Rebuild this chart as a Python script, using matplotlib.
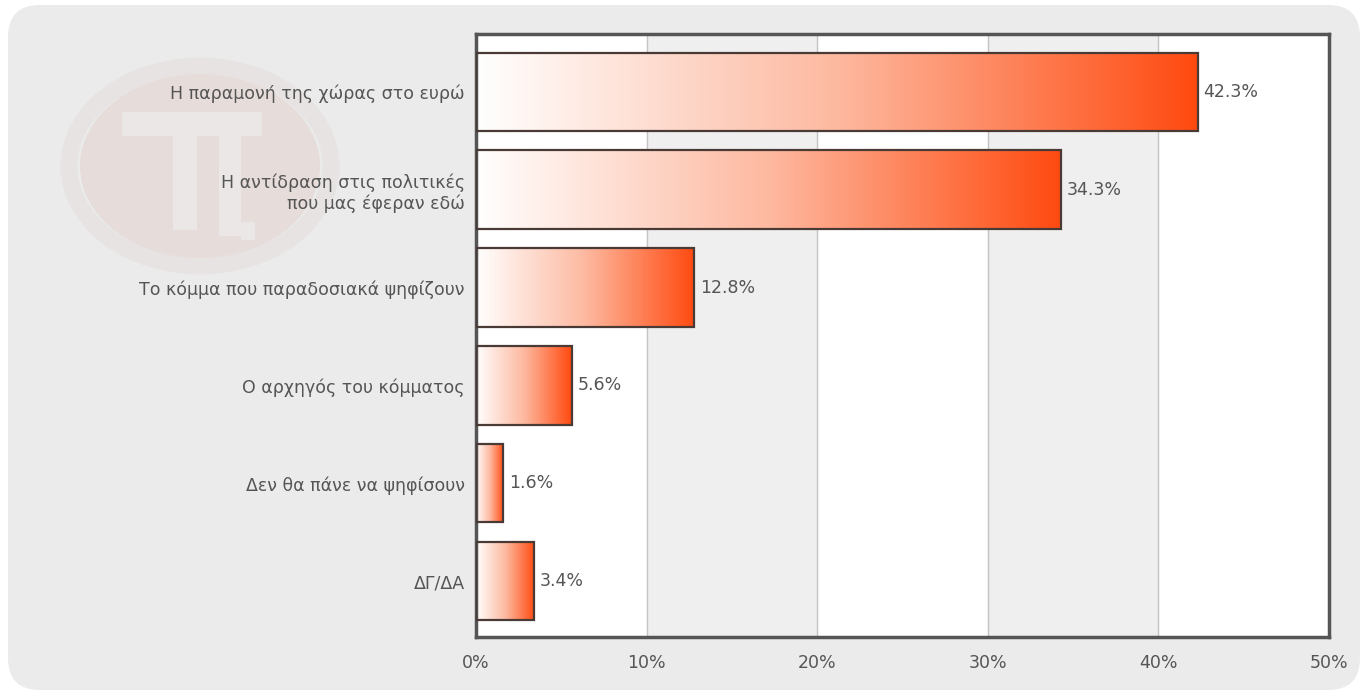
import numpy as np
import matplotlib.pyplot as plt
from matplotlib.patches import FancyBboxPatch, Rectangle, Ellipse
from matplotlib.colors import LinearSegmentedColormap

labels = ['Η παραμονή της χώρας στο ευρώ',
          'Η αντίδραση στις πολιτικές\nπου μας έφεραν εδώ',
          'Το κόμμα που παραδοσιακά ψηφίζουν',
          'Ο αρχηγός του κόμματος',
          'Δεν θα πάνε να ψηφίσουν',
          'ΔΓ/ΔΑ']
values = [42.3, 34.3, 12.8, 5.6, 1.6, 3.4]
xticks = [0, 10, 20, 30, 40, 50]

plt.rcParams['font.family'] = ['DejaVu Sans']
text_col = '#555555'
fs = 12.5
cmap = LinearSegmentedColormap.from_list('bar', ['#ffffff', '#fdb9a0', '#ff4a10'])

fig = plt.figure(figsize=(13.67, 6.97), dpi=100)
W, H = 1367, 697

# background axes in pixel units: rounded grey panel + faint logo
bgax = fig.add_axes([0, 0, 1, 1], zorder=-5)
bgax.set_xlim(0, W)
bgax.set_ylim(H, 0)
bgax.axis('off')
bgax.add_patch(FancyBboxPatch((8, 5), 1352, 685,
                              boxstyle='round,pad=0,rounding_size=32',
                              facecolor='#ebebeb', edgecolor='none'))
# watermark logo (stretched disc with a pi sign)
bgax.add_patch(Ellipse((200, 166), 262, 200, facecolor='none',
                       edgecolor='#e6e3e2', lw=12))
bgax.add_patch(Ellipse((200, 166), 240, 184, facecolor='#e6dcd9', edgecolor='none'))
pi_col = '#ebe7e6'
bgax.add_patch(Rectangle((122, 112), 140, 24, facecolor=pi_col, edgecolor='none'))
bgax.add_patch(Rectangle((173, 136), 24, 94, facecolor=pi_col, edgecolor='none'))
bgax.add_patch(Rectangle((219, 136), 22, 100, facecolor=pi_col, edgecolor='none'))
bgax.add_patch(Rectangle((241, 222), 14, 18, facecolor=pi_col, edgecolor='none'))

left, right, top, bottom = 476, 1329, 34, 637
ax = fig.add_axes([left / W, 1 - bottom / H, (right - left) / W, (bottom - top) / H])
ax.set_facecolor('white')

for x0 in (10, 30):
    ax.axvspan(x0, x0 + 10, color='#efefef', zorder=0)
for x0 in xticks[1:-1]:
    ax.axvline(x0, color='#c4c4c4', lw=1, zorder=1)

grad = np.linspace(0, 1, 256).reshape(1, -1)
h = 0.8
for i, v in enumerate(values):
    im = ax.imshow(grad, cmap=cmap, aspect='auto',
                   extent=(0, v, i + h / 2, i - h / 2), zorder=2,
                   interpolation='bicubic')
    rect = Rectangle((0, i - h / 2), v, h, facecolor='none',
                     edgecolor='#4a3a36', lw=1.6, zorder=3)
    ax.add_patch(rect)
    im.set_clip_path(rect)
    ax.text(v + 0.35, i, f'{v}%', va='center', ha='left',
            fontsize=fs, color=text_col, zorder=4)

ax.set_xlim(0, 50)
ax.set_ylim(5.57, -0.59)
ax.set_yticks(range(len(labels)))
ax.set_yticklabels(labels, fontsize=fs, color=text_col, linespacing=1.2)
ax.set_xticks(xticks)
ax.set_xticklabels([f'{t}%' for t in xticks], fontsize=fs, color=text_col)
ax.tick_params(length=0, pad=8)
ax.tick_params(axis='x', pad=12)
for s in ax.spines.values():
    s.set_color('#555555')
    s.set_linewidth(2.5)

fig.savefig('out.png', dpi=100, facecolor='white')
